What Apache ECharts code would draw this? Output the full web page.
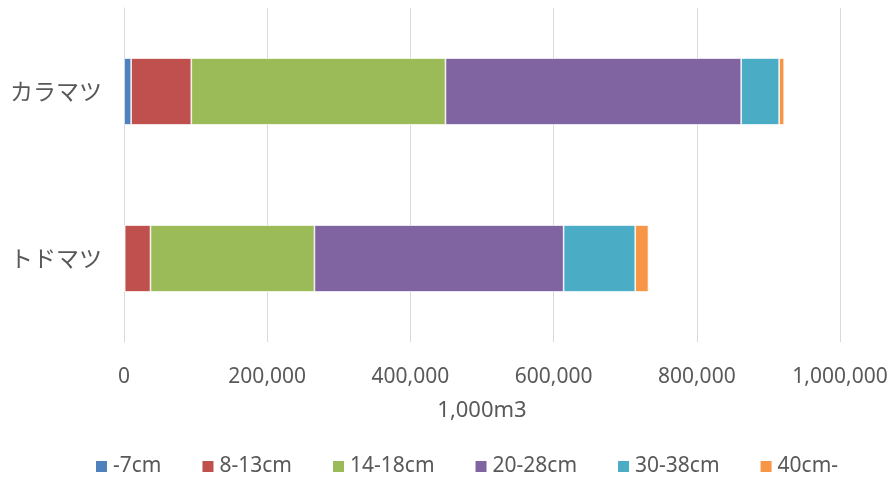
<!DOCTYPE html>
<html>
<head>
<meta charset="utf-8">
<script src="https://cdn.jsdelivr.net/npm/echarts@6/dist/echarts.min.js"></script>
<style>
  html, body { margin: 0; padding: 0; background: #fff; }
  #main { width: 892px; height: 477px; }
</style>
</head>
<body>
<div id="main"></div>
<script>
  const species = ['カラマツ', 'トドマツ']
  const classes = ['-7cm', '8-13cm', '14-18cm', '20-28cm', '30-38cm', '40cm-']
  const colors = ['#4F81BD', '#C0504D', '#9BBB59', '#8064A2', '#4BACC6', '#F79646']
  // volume per diameter class, [カラマツ, トドマツ]
  const vol7 = [10000, 1000]
  const vol8_13 = [84000, 36000]
  const vol14_18 = [355000, 229000]
  const vol20_28 = [413000, 348000]
  const vol30_38 = [53000, 100000]
  const vol40 = [7000, 18500]
  const xTicks = [0, 200000, 400000, 600000, 800000, 1000000]

  const seriesData = [vol7, vol8_13, vol14_18, vol20_28, vol30_38, vol40]
  const numFont = "'Noto Sans', sans-serif"

  const chart = echarts.init(document.getElementById('main'))
  chart.setOption({
    animation: false,
    color: colors,
    grid: { left: 124, right: 52, top: 8, bottom: 135 },
    legend: {
      top: 451,
      left: 89,
      itemWidth: 13,
      itemHeight: 13,
      itemGap: 39,
      icon: 'rect',
      textStyle: { fontSize: 21, color: '#595959', fontFamily: numFont },
      data: classes,
    },
    xAxis: {
      type: 'value',
      min: xTicks[0],
      max: xTicks[xTicks.length - 1],
      interval: 200000,
      name: '1,000m3',
      nameLocation: 'middle',
      nameGap: 58,
      nameTextStyle: { fontSize: 22, color: '#595959', fontFamily: numFont },
      axisLine: { show: false },
      axisTick: { show: false },
      axisLabel: {
        fontSize: 21,
        color: '#595959',
        fontFamily: numFont,
        margin: 25,
        formatter: (v) => v.toLocaleString('en-US'),
      },
      splitLine: { lineStyle: { color: '#D9D9D9', width: 1 } },
    },
    yAxis: {
      type: 'category',
      inverse: true,
      data: species,
      axisLine: { lineStyle: { color: '#D9D9D9' } },
      axisTick: { show: false },
      axisLabel: {
        fontSize: 23,
        color: '#595959',
        fontFamily: "'Noto Sans CJK JP', sans-serif",
        margin: 22,
      },
    },
    series: classes.map((name, i) => ({
      name,
      type: 'bar',
      stack: 'total',
      barWidth: '40%',
      itemStyle: { borderColor: '#ffffff', borderWidth: 0.7 },
      data: seriesData[i],
    })),
  })
</script>
</body>
</html>
